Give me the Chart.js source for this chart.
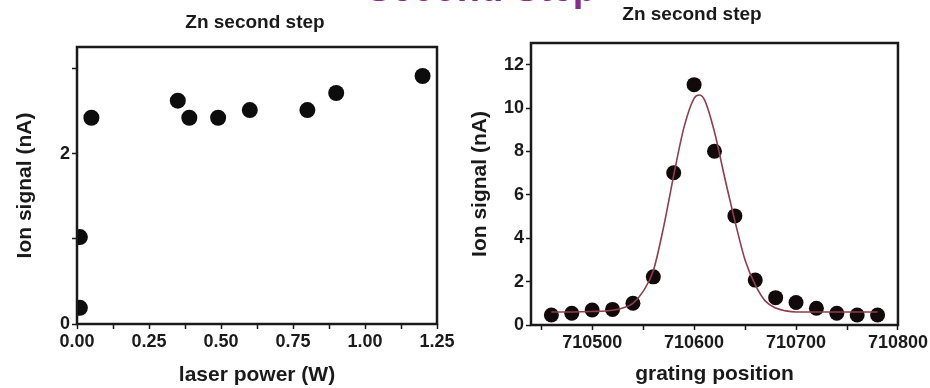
<!DOCTYPE html>
<html>
<head>
<meta charset="utf-8">
<script src="https://cdn.jsdelivr.net/npm/chart.js@4"></script>
<style>
  body { margin: 0; background: #fff; width: 930px; height: 388px; overflow: hidden; position: relative;
         font-family: "Liberation Sans", Arial, sans-serif; }
  .box { position: absolute; top: 0; height: 388px; }
  .txt { position: absolute; font-weight: bold; white-space: nowrap; text-align: center; line-height: 1; }
  #heading { left: 281px; width: 400px; top: -31px; font-size: 38px; color: #8a2a8c; }
  .sub { font-size: 19px; color: #1a1a1a; width: 240px; }
</style>
</head>
<body>
<div id="heading" class="txt">Second Step</div>
<div class="box" style="left:0;width:460px"><canvas id="powerChart"></canvas></div>
<div class="box" style="left:460px;width:470px"><canvas id="gratingChart"></canvas></div>
<div class="txt sub" style="left:135px;top:12px">Zn second step</div>
<div class="txt sub" style="left:572px;top:4px">Zn second step</div>

<script>
// Left panel: signal vs laser power
const powerW      = [0.01, 0.01, 0.05, 0.35, 0.39, 0.49, 0.60, 0.80, 0.90, 1.20];
const powerSignal = [0.19, 1.02, 2.42, 2.62, 2.42, 2.42, 2.51, 2.51, 2.71, 2.91];
const powerTicksX = [0, 0.125, 0.25, 0.375, 0.5, 0.625, 0.75, 0.875, 1.0, 1.125, 1.25];
const powerTicksY = [0, 1, 2, 3];

// Right panel: signal vs grating position, with fitted curve
const gratingPos    = [710460, 710480, 710500, 710520, 710540, 710560, 710580, 710600, 710620,
                       710640, 710660, 710680, 710700, 710720, 710740, 710760, 710780];
const gratingSignal = [0.46, 0.54, 0.69, 0.72, 1.0, 2.22, 7.02, 11.08, 8.01,
                       5.03, 2.07, 1.26, 1.04, 0.77, 0.54, 0.46, 0.46];
const fitPos    = [710460, 710480, 710500, 710520, 710530, 710540, 710550, 710560, 710570, 710580,
                   710590, 710600, 710605, 710610, 710620, 710630, 710640, 710650, 710660,
                   710670, 710680, 710690, 710700, 710740, 710780];
const fitSignal = [0.6, 0.6, 0.62, 0.68, 0.78, 1.0, 1.55, 2.5, 4.5, 6.9,
                   9.1, 10.45, 10.6, 10.4, 8.9, 6.8, 4.8, 3.0, 1.85,
                   1.1, 0.78, 0.65, 0.6, 0.6, 0.6];
const gratingTicksX = [710450, 710500, 710550, 710600, 710650, 710700, 710750, 710800];
const gratingTicksY = [0, 2, 4, 6, 8, 10, 12];

const ink = "#1a1a1a";
const tickFont = { family: "Liberation Sans", size: 18, weight: "bold" };
const titleFont = { family: "Liberation Sans", size: 21, weight: "bold" };

// draws the closed frame around the plot area
const framePlugin = {
    id: "frame",
    afterDatasetsDraw(chart) {
        const a = chart.chartArea, ctx = chart.ctx;
        ctx.save();
        ctx.strokeStyle = ink;
        ctx.lineWidth = 2.5;
        ctx.strokeRect(a.left, a.top, a.right - a.left, a.bottom - a.top);
        ctx.restore();
    }
};

function toPoints(xs, ys) {
    return xs.map((x, i) => ({ x: x, y: ys[i] }));
}

function axis(ticks, labelFn, extra) {
    return Object.assign({
        type: "linear",
        afterBuildTicks: s => { s.ticks = ticks.map(v => ({ value: v })); },
        ticks: { font: tickFont, color: ink, padding: 2, autoSkip: false, maxRotation: 0,
                 callback: labelFn },
        grid: { drawOnChartArea: false, tickLength: 5, tickColor: ink, tickWidth: 1.5 },
        border: { display: false }
    }, extra);
}

new Chart(document.getElementById("powerChart"), {
    type: "scatter",
    data: {
        datasets: [{
            data: toPoints(powerW, powerSignal),
            backgroundColor: "#0d0d0d",
            borderWidth: 0,
            pointRadius: 8,
            pointHoverRadius: 8
        }]
    },
    options: {
        responsive: true,
        maintainAspectRatio: false,
        animation: false,
        layout: { padding: { top: 47, right: 23, left: 0, bottom: 0 } },
        plugins: { legend: { display: false }, tooltip: { enabled: false } },
        scales: {
            x: axis(powerTicksX, (v, i) => (i % 2 === 0 ? v.toFixed(2) : ""), {
                min: 0, max: 1.25,
                afterFit: s => { s.height = 64; },
                title: { display: true, text: "laser power (W)", font: titleFont, color: ink,
                         padding: { top: 0, bottom: 0 } }
            }),
            y: axis(powerTicksY, v => (v % 2 === 0 ? String(v) : ""), {
                min: 0, max: 3.25,
                afterFit: s => { s.width = 77; },
                title: { display: true, text: "Ion signal (nA)", font: titleFont, color: ink,
                         padding: { top: 13, bottom: 0 } }
            })
        }
    },
    plugins: [framePlugin]
});

new Chart(document.getElementById("gratingChart"), {
    type: "scatter",
    data: {
        datasets: [{
            data: toPoints(fitPos, fitSignal),
            showLine: true,
            borderColor: "#8c3f4f",
            borderWidth: 1.6,
            pointRadius: 0,
            cubicInterpolationMode: "monotone",
            fill: false
        }, {
            data: toPoints(gratingPos, gratingSignal),
            backgroundColor: "#120a0a",
            borderWidth: 0,
            pointRadius: 7.5,
            pointHoverRadius: 7.5
        }]
    },
    options: {
        responsive: true,
        maintainAspectRatio: false,
        animation: false,
        layout: { padding: { top: 43, right: 31, left: 0, bottom: 0 } },
        plugins: { legend: { display: false }, tooltip: { enabled: false } },
        scales: {
            x: axis(gratingTicksX, v => (v % 100 === 0 ? String(v) : ""), {
                min: 710440, max: 710800,
                afterFit: s => { s.height = 63; },
                title: { display: true, text: "grating position", font: titleFont, color: ink,
                         padding: { top: 0, bottom: 1 } }
            }),
            y: axis(gratingTicksY, v => String(v), {
                min: 0, max: 13,
                afterFit: s => { s.width = 71; },
                title: { display: true, text: "Ion signal (nA)", font: titleFont, color: ink,
                         padding: { top: 8, bottom: 0 } }
            })
        }
    },
    plugins: [framePlugin]
});
</script>
</body>
</html>
